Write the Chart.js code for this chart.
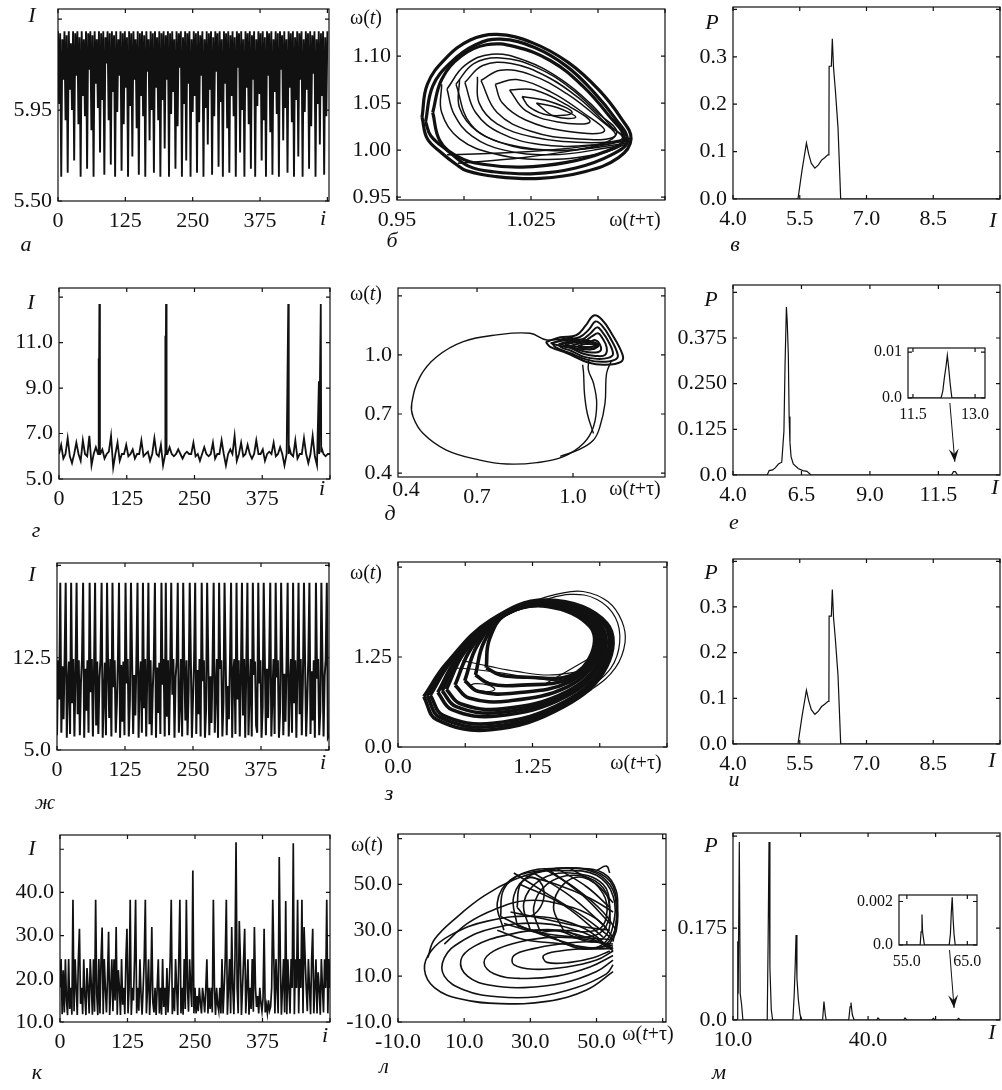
<!DOCTYPE html>
<html>
<head>
<meta charset="utf-8">
<script src="https://cdn.jsdelivr.net/npm/chart.js@4.4.1/dist/chart.umd.min.js"></script>
<style>
  body { margin: 0; background: #fff; width: 1002px; height: 1090px; overflow: hidden; position: relative;
         font-family: "Liberation Serif", "Times New Roman", serif; }
  canvas { position: absolute; }
  .t { position: absolute; font-size: 22px; line-height: 1; color: #111; white-space: nowrap;
       transform: translate(-50%, -50%); }
  .it { font-style: italic; }
  .w { font-size: 20px; }
</style>
</head>
<body>
<script>
// ---- time series, one value every stepX iterations ----
const stepA = 2;
const seriesA = [
  6.34,5.98,6.33,5.62,6.30,6.10,6.34,5.90,6.32,5.64,6.34,6.05,6.28,5.95,6.34,5.70,6.33,6.12,6.34,5.88,6.31,5.62,6.34,6.02,6.30,
  5.92,6.34,5.66,6.33,6.15,6.34,5.85,6.32,5.62,6.34,6.08,6.30,5.96,6.34,5.74,6.33,6.00,6.34,5.63,6.31,6.18,6.34,5.90,6.33,5.68,
  6.34,6.04,6.32,5.62,6.34,5.94,6.30,6.12,6.34,5.65,6.33,5.88,6.34,6.06,6.31,5.62,6.34,5.97,6.33,5.72,6.34,6.10,6.30,5.86,6.34,
  5.63,6.33,6.02,6.34,5.92,6.32,5.62,6.34,6.14,6.30,5.80,6.34,5.95,6.33,5.64,6.34,6.06,6.31,5.90,6.34,5.62,6.33,6.00,6.34,5.76,
  6.32,6.10,6.34,5.62,6.33,5.93,6.34,6.04,6.30,5.66,6.34,5.87,6.33,6.16,6.34,5.62,6.31,5.98,6.34,5.70,6.33,6.08,6.34,5.62,6.30,
  5.94,6.34,6.02,6.33,5.64,6.34,5.89,6.32,6.12,6.34,5.62,6.30,5.96,6.34,5.78,6.33,6.05,6.34,5.63,6.31,5.92,6.34,6.14,6.33,5.67,
  6.34,5.99,6.30,5.62,6.34,6.08,6.33,5.86,6.34,5.64,6.32,6.02,6.34,5.92,6.31,5.62,6.34,6.16,6.33,5.74,6.34,5.95,6.30,5.62,6.34,
  6.06,6.33,5.88,6.34,5.66,6.32,6.10,6.34,5.62,6.30,5.97,6.34,6.03,6.33,5.70,6.34,5.90,6.31,5.62,6.34,6.12,6.33,5.84,6.34,5.63,
  6.30,6.04,6.34,5.93,6.33,5.62,6.34,6.15,6.32,5.80,6.34,5.96,6.30,5.64,6.34,6.06,6.33,5.89,6.34,5.62,6.31,6.00,6.34,5.72,6.33,
  6.10,6.34,5.62,6.30,5.94,6.34,6.05,6.33,5.66,6.34,5.87,6.32,6.13,6.34,5.62,6.30,5.98,6.34,5.78,6.33,6.02,6.34,5.63,6.31,5.92,
  6.34
];

const stepG = 4;
const seriesG = [
  6.1,6.5,5.9,6.1,6.8,6.0,5.7,6.1,6.6,6.1,5.8,6.7,6.1,6.0,6.9,5.6,6.1,6.4,6.1,6.1,
  6.3,5.9,6.1,6.2,6.9,5.5,6.1,6.6,5.8,6.1,6.1,6.5,6.0,6.1,6.3,5.9,6.1,6.1,6.7,6.0,
  6.1,6.2,5.8,6.1,6.8,6.1,6.0,6.5,5.6,6.1,6.1,6.4,6.1,6.0,6.1,6.3,6.1,5.9,6.1,6.2,
  6.1,6.1,6.6,6.0,6.1,5.8,6.1,6.4,6.1,6.0,6.1,6.6,5.9,6.1,6.1,6.7,6.1,5.6,6.1,6.3,
  6.1,6.9,5.8,6.1,6.6,6.0,6.1,6.5,6.1,5.9,6.1,6.7,6.1,6.1,6.3,5.8,6.1,6.2,6.1,6.6,
  6.0,6.1,6.4,6.1,5.6,6.1,6.5,6.1,6.0,6.7,5.9,6.1,6.1,6.8,6.1,5.7,6.1,6.9,6.0,5.6,
  6.1,6.4,6.1,6.0,6.1,6.1
];
// bursts in panel г: [i, I]
const spikesG = [[73,10.3],[73.5,6.2],[74.5,12.7],[75.5,6.1],[196,11.3],[196.5,6.3],[197.5,12.7],[198.5,6.1],
  [423,12.7],[423.8,6.1],[479.5,9.3],[480.2,6.1],[483,12.7],[483.8,6.2]];

const stepJ = 2;
const seriesJ = [
  6.2,12.3,9.1,18.6,6.4,11.8,7.5,12.4,18.6,6.0,10.2,12.2,6.3,18.6,8.8,12.4,6.1,11.0,18.6,7.9,12.3,6.2,10.5,12.4,18.6,
  6.0,11.6,8.2,12.3,6.4,18.6,9.7,12.4,6.1,11.2,18.6,7.0,12.2,6.3,10.8,12.4,18.6,6.0,9.3,12.1,6.2,18.6,11.5,7.6,12.4,
  6.1,18.6,10.1,12.3,6.4,8.7,12.4,18.6,6.0,11.9,7.3,12.2,6.2,18.6,10.4,12.4,6.1,9.0,18.6,12.3,6.3,11.1,7.8,12.4,18.6,
  6.0,10.7,12.2,6.4,18.6,8.4,12.4,6.1,11.4,18.6,7.1,12.3,6.2,9.9,12.4,18.6,6.0,11.7,8.0,12.1,6.3,18.6,10.3,12.4,6.1,
  18.6,7.7,12.3,6.2,11.3,18.6,9.5,12.4,6.0,10.9,12.2,18.6,6.4,8.6,12.4,6.1,18.6,11.8,7.4,12.3,6.2,10.0,18.6,12.4,6.0,
  9.2,12.2,18.6,6.3,11.5,7.9,12.4,6.1,18.6,10.6,12.3,6.0,8.3,18.6,12.4,6.2,11.0,7.2,12.1,18.6,6.4,9.8,12.4,6.0,18.6,
  11.6,12.3,6.1,8.9,18.6,12.4,6.2,10.2,7.5,12.2,18.6,6.0,11.3,12.4,6.3,18.6,9.1,12.3,6.1,10.8,18.6,7.8,12.4,6.0,11.9,
  18.6,6.2,9.6,12.4,6.1,18.6,11.1,12.2,7.0,6.4,18.6,10.4,12.3,6.0,8.5,18.6,12.4,6.2,11.6,7.6,12.1,18.6,6.1,9.4,12.4,
  6.3,18.6,10.9,12.3,6.0,8.1,18.6,12.4,6.2,11.2,7.3,12.2,18.6,6.1,10.1,12.4,6.4,18.6,8.8,12.3,6.0,11.5,18.6,7.9,12.4,
  6.2,10.5,18.6,12.2,6.1,9.0,12.4,18.6,6.3,11.4,7.4,12.3,6.0,18.6,10.8,12.4,6.2,8.2,18.6,12.1,6.1,11.0,12.4,18.6,6.0,
  6.2
];

const stepK = 2;
const seriesK = [
  18.0,24.6,11.8,22.0,12.2,24.5,15.0,11.6,24.6,13.0,17.9,11.7,38.3,12.5,24.5,17.9,11.6,24.6,31.6,14.2,17.9,11.8,24.5,16.0,11.6,
  22.5,17.9,12.0,24.6,18.5,11.7,24.5,12.4,38.3,16.5,11.6,24.6,12.0,24.4,31.9,11.8,24.6,17.9,12.2,20.0,30.9,11.6,17.9,24.5,12.5,
  24.5,15.0,32.0,11.7,22.0,17.9,11.6,24.6,14.0,17.9,11.8,24.5,31.6,12.0,17.9,38.3,11.6,17.9,15.0,24.4,38.3,12.0,17.9,12.6,24.5,
  16.5,11.7,17.9,24.6,38.3,12.0,17.5,24.5,11.6,17.9,32.0,14.5,12.2,17.9,11.6,18.0,24.5,12.0,17.9,11.7,24.6,13.5,17.9,11.6,22.5,
  12.2,17.9,24.5,38.3,11.8,17.9,12.5,24.6,17.9,11.6,24.5,38.3,12.0,17.9,11.7,24.6,13.0,38.3,17.9,12.4,24.5,17.9,13.5,45.1,12.0,
  17.9,12.0,16.0,12.5,17.9,14.5,12.0,17.9,15.5,12.2,17.9,24.5,12.0,17.9,13.0,17.9,12.2,38.3,17.9,11.6,17.9,14.0,12.5,17.9,12.0,
  24.6,12.0,17.9,24.5,38.3,11.7,17.9,24.6,12.0,32.0,17.9,11.8,24.5,51.6,17.9,12.0,33.4,24.5,11.6,17.9,24.6,31.6,12.0,17.9,24.5,
  11.7,17.9,13.0,24.6,12.4,32.0,17.9,13.5,16.0,12.0,17.9,14.5,12.5,15.5,31.6,12.2,14.0,12.0,15.0,12.6,13.5,17.9,38.3,24.5,12.0,
  24.6,17.9,12.0,48.2,24.5,11.7,17.9,24.6,12.2,38.0,11.8,24.5,17.9,12.0,24.6,17.9,51.4,11.8,24.5,17.9,38.3,12.0,24.6,17.9,38.3,
  12.0,32.0,24.5,17.9,12.5,24.6,17.9,11.8,24.5,31.6,12.0,17.9,24.5,12.0,21.5,17.9,11.7,24.6,17.9,12.2,24.5,17.9,38.3,12.0,24.6,
  17.9
];

// ---- distributions P(I) ----
const histB_I = [4.0,5.46,5.55,5.65,5.70,5.76,5.84,5.92,5.99,6.06,6.13,6.155,6.16,6.21,6.232,6.26,6.30,6.36,6.42,10.0];
const histB_P = [0,0,0.06,0.118,0.095,0.075,0.065,0.072,0.082,0.087,0.093,0.093,0.28,0.28,0.338,0.276,0.23,0.15,0,0];
const histE_I = [4.0,5.25,5.32,5.45,5.55,5.66,5.78,5.86,5.90,5.95,5.98,6.02,6.05,6.08,6.12,6.20,6.38,6.55,6.70,6.85,11.98,12.05,12.12,12.2,14.0];
const histE_P = [0,0,0.012,0.014,0.02,0.03,0.035,0.12,0.30,0.46,0.42,0.33,0.16,0.09,0.05,0.03,0.018,0.012,0.01,0,0,0.009,0.009,0,0];
const insetE_I = [11.38,12.18,12.22,12.26,12.30,12.33,12.36,12.40,12.44,13.24];
const insetE_P = [0,0,0.0015,0.0045,0.007,0.0093,0.0068,0.003,0,0];
const histI_I = [4.0,5.46,5.55,5.65,5.70,5.76,5.84,5.92,5.99,6.06,6.13,6.155,6.16,6.21,6.232,6.26,6.30,6.36,6.42,10.0];
const histI_P = [0,0,0.06,0.118,0.095,0.075,0.065,0.072,0.082,0.087,0.093,0.093,0.28,0.28,0.338,0.276,0.23,0.15,0,0];
const histM_I = [10.0,10.9,11.05,11.15,11.4,11.6,11.9,12.2,17.6,17.8,18.0,18.2,18.5,18.8,23.3,23.6,23.8,24.0,24.2,24.5,24.9,25.3,
  29.9,30.2,30.5,30.7,35.7,36.0,36.2,36.5,36.9,41.9,42.2,42.6,47.9,48.2,48.6,54.2,54.5,54.9,59.8,60.1,60.5,69.3];
const histM_P = [0,0,0.15,0.05,0.339,0.05,0.03,0,0,0.15,0.339,0.1,0.02,0,0,0.05,0.1,0.162,0.08,0.04,0.01,0,
  0,0.035,0.01,0,0,0.025,0.033,0.01,0,0,0.004,0,0,0.004,0,0,0.003,0,0,0.003,0,0];
const insetM_I = [53.7,57.2,57.35,57.5,57.6,57.75,57.9,62.0,62.2,62.35,62.5,62.65,62.8,63.0,66.6];
const insetM_P = [0,0,0.0006,0.0014,0.0006,0.0003,0,0,0.0005,0.0015,0.0022,0.0012,0.0005,0,0];

// ---- phase portraits [omega(t+tau), omega(t)] ----
const phaseB = [
  [[0.964,1.035],[0.967,1.07],[0.977,1.097],[0.991,1.117],[1.006,1.123],[1.026,1.114],[1.046,1.093],[1.063,1.064],[1.075,1.035],[1.081,1.012],[1.074,0.992],[1.055,0.977],[1.03,0.970],[1.005,0.972],[0.989,0.978],[0.983,0.985],[0.975,0.997],[0.967,1.012],[0.964,1.035]],
  [[0.966,1.03],[0.97,1.068],[0.98,1.093],[0.994,1.112],[1.008,1.118],[1.027,1.109],[1.045,1.089],[1.06,1.062],[1.072,1.034],[1.079,1.01],[1.07,0.995],[1.05,0.981],[1.027,0.975],[1.004,0.977],[0.99,0.983],[0.978,1.0],[0.969,1.015],[0.966,1.03]],
  [[0.97,1.04],[0.975,1.075],[0.986,1.1],[1.0,1.112],[1.016,1.11],[1.036,1.095],[1.054,1.068],[1.068,1.038],[1.077,1.012],[1.066,0.998],[1.045,0.987],[1.02,0.982],[0.998,0.985],[0.984,0.993],[0.974,1.01],[0.97,1.04]]
];
const phaseBInner = [
  [[0.978,1.065],[0.988,1.09],[1.003,1.102],[1.022,1.095],[1.042,1.075],[1.058,1.05],[1.07,1.025],[1.078,1.01],[1.06,1.0],[1.035,0.995],[1.01,1.0],[0.992,1.015],[0.982,1.038],[0.978,1.065]],
  [[0.983,1.07],[0.993,1.092],[1.008,1.098],[1.028,1.088],[1.047,1.066],[1.062,1.04],[1.073,1.018],[1.058,1.003],[1.032,1.0],[1.008,1.008],[0.991,1.028],[0.983,1.07]],
  [[0.988,1.072],[0.998,1.09],[1.014,1.092],[1.034,1.078],[1.052,1.055],[1.066,1.03],[1.076,1.012],[1.055,1.005],[1.03,1.006],[1.008,1.018],[0.994,1.04],[0.988,1.072]],
  [[0.997,1.074],[1.008,1.085],[1.025,1.08],[1.045,1.06],[1.062,1.035],[1.072,1.015],[1.05,1.012],[1.025,1.02],[1.006,1.04],[0.997,1.074]],
  [[1.005,1.07],[1.017,1.075],[1.036,1.062],[1.054,1.04],[1.066,1.02],[1.045,1.02],[1.022,1.032],[1.009,1.05],[1.005,1.07]],
  [[1.013,1.064],[1.027,1.064],[1.045,1.048],[1.058,1.03],[1.04,1.03],[1.022,1.042],[1.013,1.064]],
  [[1.02,1.057],[1.035,1.052],[1.048,1.04],[1.035,1.037],[1.024,1.046],[1.02,1.057]],
  [[1.028,1.05],[1.04,1.045],[1.05,1.035],[1.038,1.036],[1.028,1.05]],
  [[0.975,1.07],[0.975,1.04],[0.985,1.012],[1.005,0.996],[1.035,0.99],[1.065,0.997],[1.08,1.008]],
  [[0.985,1.075],[0.985,1.045],[0.995,1.02],[1.015,1.005],[1.045,1.0],[1.078,1.007]],
  [[0.995,1.078],[0.996,1.05],[1.006,1.028],[1.026,1.014],[1.055,1.008],[1.08,1.01]],
  [[0.984,0.986],[1.02,0.992],[1.05,1.0],[1.081,1.011]],
  [[0.978,0.995],[1.02,0.998],[1.055,1.004],[1.081,1.013]]
];

const phaseD = [
  [[1.0,1.09],[0.918,1.076],[0.866,1.11],[0.762,1.102],[0.657,1.068],[0.574,0.991],[0.522,0.89],[0.496,0.754],[0.5,0.686],[0.531,0.602],[0.604,0.517],[0.709,0.466],[0.793,0.446],[0.887,0.453],[0.97,0.483],[1.033,0.551],[1.064,0.635],[1.074,0.754],[1.064,0.856],[1.048,0.924],[1.05,0.98]],
  [[1.12,0.97],[1.105,0.907],[1.1,0.754],[1.084,0.635],[1.064,0.568],[1.02,0.52],[0.96,0.485]],
  [[1.03,0.95],[1.033,0.907],[1.036,0.8],[1.045,0.7],[1.064,0.601]]
];
const phaseDCluster = [
  [[0.915,1.065],[0.96,1.09],[1.01,1.1],[1.04,1.15],[1.065,1.2],[1.09,1.18],[1.12,1.11],[1.155,1.0],[1.15,0.965],[1.1,0.95],[1.05,0.96],[0.98,1.01],[0.93,1.04],[0.915,1.065]],
  [[0.935,1.06],[0.975,1.08],[1.02,1.09],[1.05,1.13],[1.07,1.17],[1.09,1.15],[1.115,1.09],[1.14,1.0],[1.13,0.975],[1.09,0.965],[1.045,0.975],[0.99,1.01],[0.945,1.04],[0.935,1.06]],
  [[0.955,1.055],[0.99,1.07],[1.03,1.08],[1.055,1.11],[1.075,1.14],[1.09,1.12],[1.11,1.07],[1.125,1.005],[1.11,0.985],[1.075,0.98],[1.035,0.99],[0.995,1.02],[0.962,1.04],[0.955,1.055]],
  [[0.975,1.05],[1.0,1.062],[1.035,1.07],[1.06,1.095],[1.078,1.11],[1.09,1.09],[1.105,1.04],[1.1,1.0],[1.07,0.995],[1.035,1.005],[1.0,1.03],[0.975,1.05]],
  [[0.995,1.048],[1.02,1.058],[1.05,1.065],[1.07,1.075],[1.085,1.05],[1.085,1.02],[1.06,1.012],[1.03,1.02],[1.005,1.035],[0.995,1.048]],
  [[1.015,1.045],[1.04,1.055],[1.065,1.052],[1.07,1.035],[1.05,1.028],[1.025,1.035],[1.015,1.045]],
  [[0.93,1.06],[0.98,1.075],[1.04,1.075],[1.08,1.05],[1.06,1.03],[1.0,1.035],[0.95,1.05],[0.93,1.06]],
  [[0.96,1.055],[1.01,1.068],[1.06,1.062],[1.075,1.045],[1.04,1.04],[0.99,1.045],[0.96,1.055]]
];

const phaseZRing = [
  [[0.24,0.70],[0.36,0.38],[0.86,0.24],[1.54,0.56],[1.94,1.12],[1.94,1.72],[1.38,2.04],[0.86,1.76],[0.45,1.16],[0.24,0.70]],
  [[0.27,0.71],[0.39,0.41],[0.87,0.285],[1.545,0.595],[1.925,1.135],[1.925,1.715],[1.385,2.03],[0.875,1.765],[0.475,1.18],[0.27,0.71]],
  [[0.30,0.72],[0.42,0.44],[0.88,0.33],[1.55,0.63],[1.91,1.15],[1.91,1.71],[1.39,2.02],[0.89,1.77],[0.50,1.20],[0.30,0.72]],
  [[0.37,0.76],[0.50,0.52],[0.92,0.43],[1.56,0.70],[1.89,1.18],[1.88,1.70],[1.39,2.00],[0.92,1.78],[0.56,1.26],[0.37,0.76]],
  [[0.41,0.78],[0.54,0.56],[0.945,0.48],[1.565,0.735],[1.88,1.195],[1.87,1.695],[1.395,1.995],[0.935,1.79],[0.59,1.29],[0.41,0.78]],
  [[0.45,0.80],[0.58,0.60],[0.97,0.53],[1.57,0.77],[1.87,1.21],[1.86,1.69],[1.40,1.99],[0.95,1.80],[0.62,1.32],[0.45,0.80]],
  [[0.53,0.86],[0.66,0.68],[1.03,0.64],[1.58,0.84],[1.85,1.24],[1.84,1.68],[1.40,1.98],[0.97,1.82],[0.68,1.37],[0.53,0.86]],
  [[0.62,0.92],[0.75,0.77],[1.09,0.75],[1.59,0.90],[1.83,1.27],[1.82,1.68],[1.40,1.97],[0.99,1.83],[0.74,1.42],[0.62,0.92]],
  [[0.72,1.00],[0.85,0.88],[1.15,0.86],[1.60,0.95],[1.81,1.29],[1.80,1.68],[1.40,1.96],[1.00,1.84],[0.80,1.46],[0.72,1.00]],
  [[0.82,1.10],[0.95,1.00],[1.20,0.97],[1.60,0.99],[1.80,1.30],[1.78,1.68],[1.40,1.95],[1.01,1.85],[0.85,1.50],[0.82,1.10]]
];
const phaseZThin = [
  [[1.2,2.0],[1.5,2.13],[1.72,2.16],[1.95,2.02],[2.08,1.75],[2.11,1.45],[2.02,1.1],[1.8,0.8],[1.55,0.6]],
  [[1.3,2.02],[1.6,2.12],[1.85,2.05],[2.02,1.8],[2.06,1.45],[1.98,1.1],[1.75,0.78]],
  [[0.5,1.1],[0.7,1.08],[1.0,1.02],[1.3,0.95],[1.6,0.93],[1.8,1.1]],
  [[0.6,1.2],[0.85,1.12],[1.1,1.05],[1.4,1.0],[1.7,1.05]],
  [[1.35,0.86],[1.8,1.25]],
  [[0.66,0.85],[0.72,0.88],[0.84,0.86],[0.9,0.8],[0.82,0.77],[0.7,0.8],[0.66,0.85]]
];

const phaseL = [
  [[55,21],[46,31],[32,36],[17,34],[6,28],[0,21],[-2,13],[1,5],[9,0],[21,-2],[35,-1],[47,4],[55,12]],
  [[55,22],[46,29],[33,33],[19,31],[9,25],[4,18],[4,10],[10,4],[20,1],[32,1],[44,5],[53,11],[55,15]],
  [[55,22],[47,27],[35,30],[23,28],[13,23],[9,17],[11,10],[18,6],[28,5],[40,7],[50,12],[55,17]],
  [[55,23],[47,26],[37,27],[27,25],[19,21],[16,16],[19,11],[27,9],[38,10],[48,14],[55,19]],
  [[55,24],[47,25],[39,24],[31,22],[25,19],[25,15],[31,13],[41,14],[50,17],[55,21]],
  [[54,23],[46,22],[39,21],[34,19],[35,16],[42,16],[49,18],[54,21]],
  [[-1,18],[1,26],[8,36],[16,45],[25,52],[34,56],[44,57],[52,55],[56,47],[56,35],[55,25]],
  [[4,24],[11,33],[19,39],[29,43],[40,41],[50,35],[55,27]],
  [[21,36],[22,48],[28,55],[38,57],[48,56],[54,50],[56,40],[55,28],[50,22],[40,25],[30,30],[21,36]],
  [[26,32],[25,45],[30,54],[40,56],[50,54],[55,45],[55,32],[52,24],[45,22],[35,28],[26,32]],
  [[30,30],[28,42],[33,52],[42,55],[52,50],[54,38],[53,28],[48,25],[38,30],[30,30]],
  [[22,30],[20,42],[24,52],[33,56],[45,57],[53,53],[56,44],[56,30],[53,22]],
  [[33,29],[31,40],[35,50],[43,54],[51,50],[54,40],[52,30],[46,27],[40,30],[33,29]],
  [[40,30],[37,40],[40,50],[46,53],[52,46],[53,36],[50,30],[40,30]],
  [[27,50],[40,41],[52,27]],
  [[31,55],[42,45],[53,31]],
  [[36,56],[46,45],[54,33]],
  [[25,55],[35,46],[46,36],[55,26]],
  [[34,57],[44,48],[52,38],[56,30]],
  [[38,57],[47,49],[54,40]],
  [[42,57],[50,50],[55,42]],
  [[26,40],[27,50],[31,53],[34,48],[33,40],[29,36],[26,40]],
  [[24,38],[34,35],[44,32],[54,30]],
  [[28,54],[38,50],[48,44],[55,38]],
  [[20,30],[28,26],[40,24],[50,22],[55,22]],
  [[22,33],[32,29],[44,27],[55,26]],
  [[50,56],[53,58],[54,55]]
];

// ---- helpers ----
Chart.defaults.font.family = '"Liberation Serif", "Times New Roman", serif';
Chart.defaults.font.size = 22;
Chart.defaults.color = '#111';

const frame = {
  id: 'frame',
  afterDraw(chart) {
    const { ctx, chartArea: a, scales } = chart;
    ctx.save();
    ctx.strokeStyle = '#111';
    ctx.lineWidth = 1.2;
    ctx.strokeRect(a.left, a.top, a.right - a.left, a.bottom - a.top);
    const L = 4;
    ctx.beginPath();
    scales.x.ticks.forEach(t => {
      const p = scales.x.getPixelForValue(t.value);
      ctx.moveTo(p, a.bottom); ctx.lineTo(p, a.bottom - L);
      ctx.moveTo(p, a.top); ctx.lineTo(p, a.top + L);
    });
    scales.y.ticks.forEach(t => {
      const p = scales.y.getPixelForValue(t.value);
      ctx.moveTo(a.left, p); ctx.lineTo(a.left + L, p);
      ctx.moveTo(a.right, p); ctx.lineTo(a.right - L, p);
    });
    ctx.stroke();
    ctx.restore();
  }
};

const arrow = {
  id: 'arrow',
  afterDraw(chart, args, o) {
    if (!o || !o.from) return;
    const { ctx, scales: { x, y } } = chart;
    const x0 = x.getPixelForValue(o.from[0]), y0 = y.getPixelForValue(o.from[1]);
    const x1 = x.getPixelForValue(o.to[0]), y1 = y.getPixelForValue(o.to[1]);
    const a = Math.atan2(y1 - y0, x1 - x0), c = Math.cos(a), s = Math.sin(a);
    const L = 13, W = 5;
    ctx.save();
    ctx.strokeStyle = '#111'; ctx.fillStyle = '#111'; ctx.lineWidth = 1;
    ctx.beginPath(); ctx.moveTo(x0, y0); ctx.lineTo(x1, y1); ctx.stroke();
    ctx.beginPath();
    ctx.moveTo(x1, y1);
    ctx.lineTo(x1 - L * c + W * s, y1 - L * s - W * c);
    ctx.lineTo(x1 - 0.6 * L * c, y1 - 0.6 * L * s);
    ctx.lineTo(x1 - L * c - W * s, y1 - L * s + W * c);
    ctx.closePath(); ctx.fill();
    ctx.restore();
  }
};

function line(points, w, tension) {
  return { data: points.map(p => ({ x: p[0], y: p[1] })), showLine: true, borderColor: '#111',
           borderWidth: w, pointRadius: 0, tension: tension || 0, fill: false };
}
const series = (vals, step) => vals.map((v, i) => [i * step, v]);
const zip = (xs, ys) => xs.map((x, i) => [x, ys[i]]);

function scale(pos, ax, size, fs) {
  return {
    type: 'linear', position: pos, min: ax.min, max: ax.max,
    afterBuildTicks: s => { s.ticks = ax.ticks.map(v => ({ value: v })); },
    afterFit: s => { if (pos === 'left') s.width = size; else s.height = size; },
    grid: { display: false, drawTicks: false },
    border: { display: false },
    ticks: { autoSkip: false, maxRotation: 0, minRotation: 0, padding: pos === 'left' ? 6 : 7,
             font: { size: fs }, callback: (v, i) => ax.labels[i] }
  };
}

function panel(box, xa, ya, datasets, o) {
  o = o || {};
  const yw = o.yw || 80, xh = o.xh || 36, pt = o.pt || 24, pr = o.pr || 14, fs = o.fs || 22;
  const c = document.createElement('canvas');
  c.width = box[2] - box[0] + yw + pr;
  c.height = box[3] - box[1] + pt + xh;
  c.style.left = (box[0] - yw) + 'px';
  c.style.top = (box[1] - pt) + 'px';
  document.body.appendChild(c);
  new Chart(c, {
    type: 'scatter',
    data: { datasets },
    plugins: [frame, arrow],
    options: {
      responsive: false, animation: false, events: [],
      layout: { padding: { top: pt, right: pr, left: 0, bottom: 0 } },
      plugins: { legend: { display: false }, tooltip: { enabled: false }, arrow: o.arrow || {} },
      scales: { x: scale('bottom', xa, xh, fs), y: scale('left', ya, yw, fs) }
    }
  });
}

// ---- axes ----
const axTime = { min: 0, max: 503, ticks: [0, 125, 250, 375, 500], labels: ['0', '125', '250', '375', ''] };
const axHist = { min: 4, max: 10, ticks: [4, 5.5, 7, 8.5, 10], labels: ['4.0', '5.5', '7.0', '8.5', ''] };
const axP4 = { min: 0, max: 0.405, ticks: [0, 0.1, 0.2, 0.3, 0.4], labels: ['0.0', '0.1', '0.2', '0.3', ''] };

// row 1
panel([58, 9, 329, 201], axTime,
  { min: 5.5, max: 6.45, ticks: [5.5, 5.95, 6.4], labels: ['5.50', '5.95', ''] },
  [line(series(seriesA, stepA), 1.9)]);
panel([397, 9, 665, 200],
  { min: 0.95, max: 1.10, ticks: [0.95, 0.9875, 1.025, 1.0625, 1.10], labels: ['0.95', '', '1.025', '', ''] },
  { min: 0.947, max: 1.15, ticks: [0.95, 1.0, 1.05, 1.10], labels: ['0.95', '1.00', '1.05', '1.10'] },
  phaseB.map(l => line(l, 3.2, 0.4)).concat(phaseBInner.map(l => line(l, 1.5, 0.4))));
panel([733, 7, 1000, 199], axHist, axP4, [line(zip(histB_I, histB_P), 1.2)]);

// row 2
panel([59, 288, 330, 479], { min: 0, max: 500, ticks: [0, 125, 250, 375, 500], labels: ['0', '125', '250', '375', ''] },
  { min: 5, max: 13.4, ticks: [5, 7, 9, 11, 13], labels: ['5.0', '7.0', '9.0', '11.0', ''] },
  [line(series(seriesG, stepG).concat(spikesG).sort((a, b) => a[0] - b[0]), 1.8)]);
panel([398, 288, 665, 477],
  { min: 0.453, max: 1.2875, ticks: [0.7, 1.0], labels: ['0.7', '1.0'] },
  { min: 0.38, max: 1.34, ticks: [0.4, 0.7, 1.0, 1.3], labels: ['0.4', '0.7', '1.0', ''] },
  phaseD.map(l => line(l, 1.4, 0.4)).concat(phaseDCluster.map(l => line(l, 2.0, 0.4))));
panel([733, 285, 1000, 475],
  { min: 4, max: 13.75, ticks: [4, 6.5, 9, 11.5], labels: ['4.0', '6.5', '9.0', '11.5'] },
  { min: 0, max: 0.52, ticks: [0, 0.125, 0.25, 0.375, 0.5], labels: ['0.0', '0.125', '0.250', '0.375', ''] },
  [line(zip(histE_I, histE_P), 1.2)], { arrow: { from: [11.92, 0.197], to: [12.1, 0.036] } });
panel([908, 348, 985, 398],
  { min: 11.38, max: 13.24, ticks: [11.5, 13.0], labels: ['11.5', '13.0'] },
  { min: 0, max: 0.0109, ticks: [0, 0.01], labels: ['0.0', '0.01'] },
  [line(zip(insetE_I, insetE_P), 1.2)], { yw: 50, xh: 24, pt: 16, pr: 20, fs: 16 });

// row 3
panel([57, 563, 329, 750], { min: 0, max: 500, ticks: [0, 125, 250, 375, 500], labels: ['0', '125', '250', '375', ''] },
  { min: 5, max: 20.2, ticks: [5, 12.5, 20], labels: ['5.0', '12.5', ''] },
  [line(series(seriesJ, stepJ), 2.0)]);
panel([398, 562, 667, 747],
  { min: 0, max: 2.5, ticks: [0, 0.625, 1.25, 1.875, 2.5], labels: ['0.0', '', '1.25', '', ''] },
  { min: 0, max: 2.57, ticks: [0, 1.25, 2.5], labels: ['0.0', '1.25', ''] },
  phaseZRing.map(l => line(l, 3.6, 0.4)).concat(phaseZThin.map(l => line(l, 1.2, 0.4))));
panel([733, 559, 1000, 744], axHist, axP4, [line(zip(histI_I, histI_P), 1.2)]);

// row 4
panel([60, 835, 330, 1022], { min: 0, max: 500, ticks: [0, 125, 250, 375, 500], labels: ['0', '125', '250', '375', ''] },
  { min: 10, max: 53.3, ticks: [10, 20, 30, 40, 50], labels: ['10.0', '20.0', '30.0', '40.0', ''] },
  [line(series(seriesK, stepK), 1.7)]);
panel([398, 834, 666, 1022],
  { min: -10, max: 71, ticks: [-10, 10, 30, 50, 70], labels: ['-10.0', '10.0', '30.0', '50.0', ''] },
  { min: -10, max: 72, ticks: [-10, 10, 30, 50, 70], labels: ['-10.0', '10.0', '30.0', '50.0', ''] },
  phaseL.map(l => line(l, 1.6, 0.4)));
panel([733, 833, 1000, 1020],
  { min: 10, max: 69.3, ticks: [10, 25, 40, 55], labels: ['10.0', '', '40.0', ''] },
  { min: 0, max: 0.356, ticks: [0, 0.175, 0.35], labels: ['0.0', '0.175', ''] },
  [line(zip(histM_I, histM_P), 1.2)], { arrow: { from: [58.1, 0.133], to: [59.1, 0.023] } });
panel([899, 895, 977, 945],
  { min: 53.7, max: 66.6, ticks: [55, 65], labels: ['55.0', '65.0'] },
  { min: 0, max: 0.0023, ticks: [0, 0.002], labels: ['0.0', '0.002'] },
  [line(zip(insetM_I, insetM_P), 1.2)], { yw: 50, xh: 24, pt: 16, pr: 20, fs: 16 });

// ---- axis names and panel letters ----
const W = 'ω(<i>t</i>)', WT = 'ω(<i>t</i>+τ)';
const texts = [
  ['I', 32, 15, 'it'], ['i', 323, 218, 'it'], ['а', 26, 244, 'it'],
  [W, 366, 17, 'w'], [WT, 635, 219, 'w'], ['б', 392, 240, 'it'],
  ['P', 712, 22, 'it'], ['I', 993, 220, 'it'], ['в', 735, 244, 'it'],
  ['I', 31, 302, 'it'], ['i', 322, 488, 'it'], ['г', 36, 530, 'it'],
  [W, 366, 293, 'w'], [WT, 635, 488, 'w'], ['д', 390, 513, 'it'], ['0.4', 406, 489, ''],
  ['P', 711, 299, 'it'], ['I', 995, 487, 'it'], ['е', 734, 522, 'it'],
  ['I', 32, 574, 'it'], ['i', 323, 762, 'it'], ['ж', 45, 802, 'it'],
  [W, 366, 572, 'w'], [WT, 636, 762, 'w'], ['з', 389, 793, 'it'],
  ['P', 711, 572, 'it'], ['I', 992, 760, 'it'], ['и', 734, 779, 'it'],
  ['I', 32, 848, 'it'], ['i', 325, 1035, 'it'], ['к', 37, 1072, 'it'],
  [W, 367, 844, 'w'], [WT, 648, 1033, 'w'], ['л', 384, 1066, 'it'],
  ['P', 711, 845, 'it'], ['I', 992, 1032, 'it'], ['м', 719, 1072, 'it']
];
texts.forEach(([s, x, y, cls]) => {
  const d = document.createElement('div');
  d.className = 't ' + cls;
  d.innerHTML = s;
  d.style.left = x + 'px';
  d.style.top = y + 'px';
  document.body.appendChild(d);
});
</script>
</body>
</html>
